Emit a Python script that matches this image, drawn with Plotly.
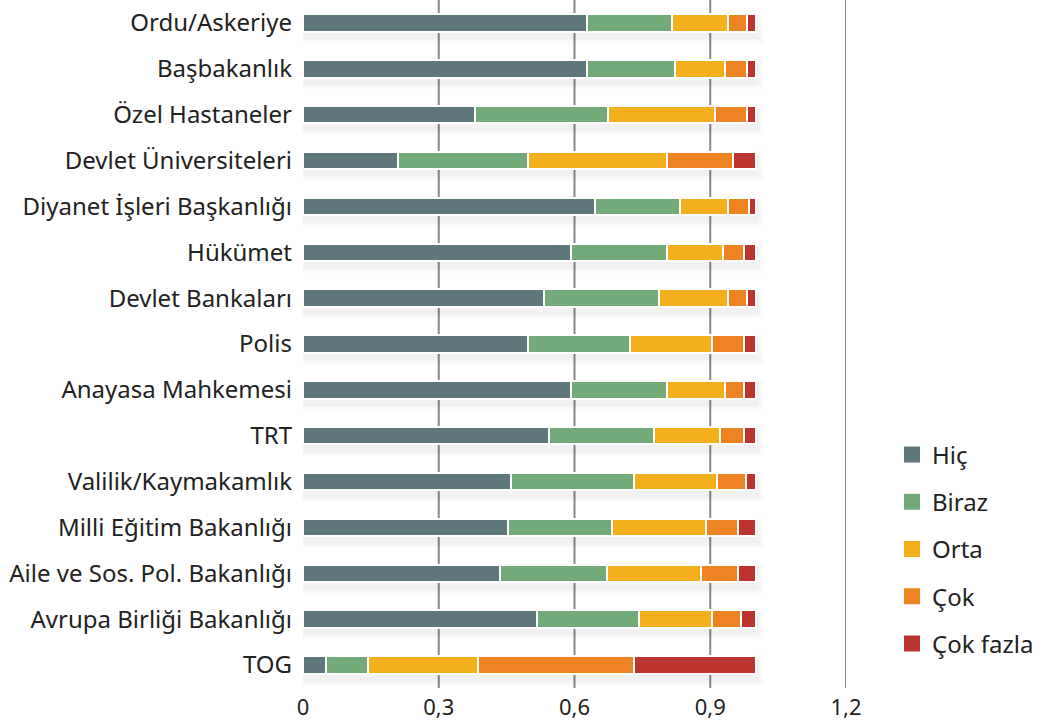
import plotly.graph_objects as go

categories = [
    "Ordu/Askeriye", "Başbakanlık", "Özel Hastaneler", "Devlet Üniversiteleri",
    "Diyanet İşleri Başkanlığı", "Hükümet", "Devlet Bankaları", "Polis",
    "Anayasa Mahkemesi", "TRT", "Valilik/Kaymakamlık", "Milli Eğitim Bakanlığı",
    "Aile ve Sos. Pol. Bakanlığı", "Avrupa Birliği Bakanlığı", "TOG",
]

hic = [0.627, 0.627, 0.379, 0.209, 0.645, 0.592, 0.533, 0.497, 0.592, 0.544, 0.459, 0.453, 0.435, 0.517, 0.050]
biraz = [0.189, 0.194, 0.295, 0.288, 0.188, 0.212, 0.254, 0.225, 0.212, 0.231, 0.272, 0.230, 0.236, 0.225, 0.094]
orta = [0.123, 0.112, 0.236, 0.307, 0.106, 0.124, 0.152, 0.182, 0.129, 0.146, 0.184, 0.208, 0.209, 0.161, 0.243]
cok = [0.042, 0.048, 0.071, 0.147, 0.047, 0.046, 0.042, 0.070, 0.041, 0.053, 0.065, 0.071, 0.082, 0.065, 0.344]
cok_fazla = [0.019, 0.019, 0.019, 0.049, 0.014, 0.026, 0.019, 0.026, 0.026, 0.026, 0.020, 0.038, 0.038, 0.032, 0.269]

series_names = ["Hiç", "Biraz", "Orta", "Çok", "Çok fazla"]
series_values = [hic, biraz, orta, cok, cok_fazla]
series_colors = ["#5E777A", "#72AA7A", "#F4B01C", "#EE8322", "#BB3430"]

tick_values = [0, 0.3, 0.6, 0.9, 1.2]
tick_labels = ["0", "0,3", "0,6", "0,9", "1,2"]
grid_values = [0.3, 0.6, 0.9, 1.2]

FONT = "Noto Sans"
TEXT = "#222222"
FS = 24
N = len(categories)
totals = [sum(v) for v in zip(*series_values)]

fig = go.Figure()

# soft drop shadow behind the bars (base axis y)
for w, ext, a in [(0.66, 0.022, 0.010), (0.58, 0.018, 0.012), (0.51, 0.014, 0.014), (0.45, 0.010, 0.016)]:
    fig.add_trace(go.Bar(
        y=categories, x=[t + ext for t in totals], base=-0.004, orientation="h",
        marker=dict(color=f"rgba(0,0,0,{a})", line=dict(width=0)),
        width=w, showlegend=False, hoverinfo="skip", yaxis="y",
    ))

# main stacked bars on overlaying axis y2
for name, vals, col in zip(series_names, series_values, series_colors):
    fig.add_trace(go.Bar(
        y=categories, x=vals, name=name, orientation="h",
        marker=dict(color=col, line=dict(color="white", width=2)),
        width=0.38, showlegend=False, hoverinfo="skip", yaxis="y2",
    ))

# legend entries with larger square swatches
for name, col in zip(series_names, series_colors):
    fig.add_trace(go.Scatter(
        x=[None], y=[None], mode="markers", name=name, legendgroup=name,
        marker=dict(symbol="square", size=16, color=col), yaxis="y2",
    ))

for g in grid_values:
    fig.add_shape(type="line", xref="x", yref="paper", x0=g, x1=g, y0=0, y1=1,
                  line=dict(color="#888888", width=2), layer="below")

shift = 0.12
fig.update_layout(
    width=1039, height=723,
    barmode="stack",
    paper_bgcolor="white", plot_bgcolor="white",
    margin=dict(l=303, r=193, t=0, b=35),
    font=dict(family=FONT, size=FS, color=TEXT),
    showlegend=True,
    legend=dict(
        x=1.085, xanchor="left", y=0.202, yanchor="middle",
        traceorder="grouped", tracegroupgap=13,
        font=dict(family=FONT, size=FS, color=TEXT),
        itemwidth=30, bgcolor="rgba(0,0,0,0)",
    ),
    xaxis=dict(
        range=[0, 1.2], tickvals=tick_values, ticktext=tick_labels,
        showgrid=False, zeroline=False, showline=False, automargin=False,
        tickfont=dict(family=FONT, size=22, color=TEXT), ticks="", ticklabelstandoff=4,
    ),
    yaxis=dict(
        categoryorder="array", categoryarray=categories, automargin=False,
        range=[N - 0.5 - shift, -0.5 - shift],
        showgrid=False, zeroline=False, showline=False, ticks="", showticklabels=False,
    ),
    yaxis2=dict(
        overlaying="y", side="left", automargin=False,
        categoryorder="array", categoryarray=categories,
        range=[N - 0.5, -0.5],
        showgrid=False, zeroline=False, showline=False, ticks="",
        tickfont=dict(family=FONT, size=FS, color=TEXT), ticklabelstandoff=10,
    ),
)

fig.write_html("out.html", config={"displayModeBar": False},
               post_script="document.body.style.margin='0';")
